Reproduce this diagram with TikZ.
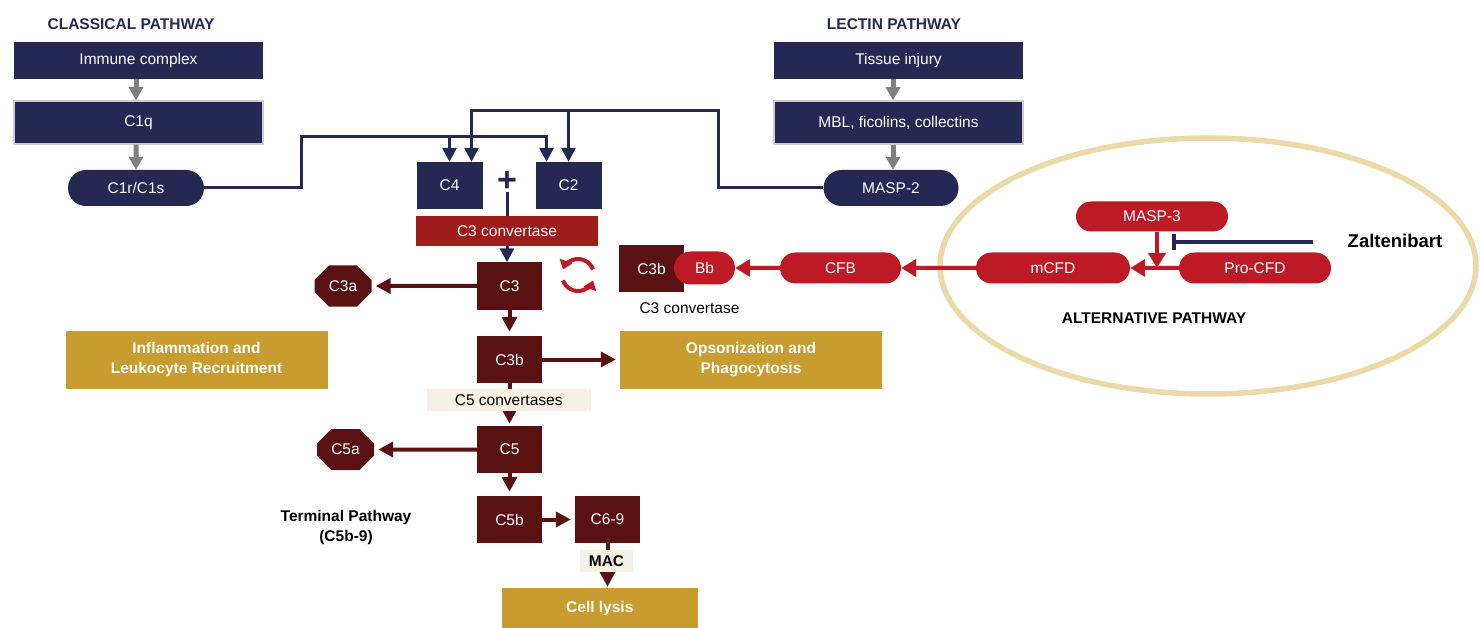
\documentclass[tikz,border=0pt]{standalone}
\usepackage{fontspec}
\setmainfont{Liberation Sans}
\usepackage{xcolor}
\usetikzlibrary{arrows.meta}
\usetikzlibrary{shapes.misc}
\definecolor{navy}{RGB}{36,40,82}
\definecolor{maroon}{RGB}{90,17,17}
\definecolor{alertred}{RGB}{190,26,38}
\definecolor{convred}{RGB}{158,28,26}
\definecolor{gold}{RGB}{201,156,47}
\definecolor{beige}{RGB}{247,241,227}
\definecolor{ringtan}{RGB}{236,217,168}
\definecolor{arrowgray}{RGB}{128,128,128}
\newcommand{\boxfont}{\fontsize{15.5}{20}\selectfont}
\tikzset{>=Triangle}
\tikzset{navybox/.style = {rectangle,fill=navy,text=white,font=\boxfont,minimum width=249pt,minimum height=37pt,inner sep=0pt}}
\tikzset{navypill/.style = {rounded rectangle,fill=navy,text=white,font=\boxfont,minimum width=136pt,minimum height=36pt,inner sep=0pt}}
\tikzset{navysq/.style = {rectangle,fill=navy,text=white,font=\boxfont,minimum width=66pt,minimum height=47pt,inner sep=0pt}}
\tikzset{head/.style = {font=\boxfont\bfseries,text=navy}}
\tikzset{darkbox/.style = {rectangle,fill=maroon,text=white,font=\boxfont,minimum width=65pt,minimum height=47pt,inner sep=0pt}}
\tikzset{darkoct/.style = {chamfered rectangle,chamfered rectangle xsep=9pt,chamfered rectangle ysep=9pt,fill=maroon,text=white,font=\boxfont,minimum width=57pt,minimum height=41pt,inner sep=0pt}}
\tikzset{redpill/.style = {rounded rectangle,fill=alertred,text=white,font=\boxfont,minimum height=31pt,inner sep=0pt}}
\tikzset{goldbox/.style = {rectangle,fill=gold,text=white,font=\boxfont\bfseries,align=center,minimum width=262pt,minimum height=58pt,inner sep=0pt}}
\tikzset{tag/.style = {rectangle,fill=beige,text=black,font=\boxfont,minimum height=22pt,inner sep=0pt}}
\tikzset{grayarrow/.style = {->,>={Triangle[width=14pt,length=13pt]},draw=arrowgray,line width=5pt}}
\tikzset{navyline/.style = {draw=navy,line width=3pt}}
\tikzset{navyarrow/.style = {navyline,->,>={Triangle[width=14pt,length=14pt]}}}
\tikzset{darkarrow/.style = {->,>={Triangle[width=15pt,length=15pt]},draw=maroon,line width=4pt,shorten >=4pt}}
\tikzset{redarrow/.style = {->,>={Triangle[width=17pt,length=15pt]},draw=alertred,line width=4pt}}
\tikzset{cyclearc/.style = {-{Triangle[width=13pt,length=9pt]},draw=alertred,line width=4pt}}
\tikzset{inhibit/.style = {-{Bar[width=16pt,line width=4pt]},draw=navy,line width=4pt}}

\begin{document}
\begin{tikzpicture}[x=1pt,y=-1pt]
    \useasboundingbox (0,0) rectangle (1480,628);

    \draw[ringtan,line width=5.5pt] (1208,266) ellipse [x radius=268,y radius=128];

    \node[head] (classical) at (131,24) {CLASSICAL PATHWAY};
    \node[navybox] (immune) at (138.5,60.5) {Immune complex};
    \node[navybox,draw=black!20,line width=1.5pt,minimum height=43pt] (c1q) at (138.5,122.5) {C1q};
    \node[navypill] (c1r) at (136,188) {C1r/C1s};

    \node[head] (lectin) at (894,24) {LECTIN PATHWAY};
    \node[navybox] (tissue) at (898.5,60.5) {Tissue injury};
    \node[navybox,draw=black!20,line width=1.5pt,minimum height=43pt] (mbl) at (898.5,122.5) {MBL, ficolins, collectins};
    \node[navypill,minimum width=135pt] (masp2) at (891,188) {MASP-2};

    \draw[grayarrow] (immune.south -| c1r) -- (c1q.north -| c1r);
    \draw[grayarrow] (c1q.south -| c1r) -- (c1r);
    \draw[grayarrow] ([xshift=2pt]tissue.south -| masp2) -- ([xshift=2pt]mbl.north -| masp2);
    \draw[grayarrow] ([xshift=2pt]mbl.south -| masp2) -- ([xshift=2pt]masp2.north);

    \node[navysq] (c4) at (449.5,185.5) {C4};
    \node[navysq] (c2) at (568.5,185.5) {C2};
    \node[text=navy,font=\fontsize{34}{34}\selectfont\bfseries,inner sep=0pt] (plus) at (507,182) {+};

    \coordinate (clbend) at (301,137);
    \coordinate (lebend) at (718,111);
    \draw[navyarrow] (c1r.east) -| (clbend) -| ([xshift=-22pt]c2.north);
    \draw[navyarrow] (c4.north |- clbend) -- (c4.north);
    \draw[navyarrow] (masp2.west) -| (lebend) -| (c2.north);
    \draw[navyarrow] (c2.north |- lebend) -| ([xshift=22pt]c4.north);

    \node[darkbox] (c3) at (509.5,286) {C3};
    \draw[navyarrow] (plus.south) -- (plus.south |- c3.north);
    \node[rectangle,fill=convred,text=white,font=\boxfont,minimum width=182pt,minimum height=30pt,inner sep=0pt] (c3conv) at (507,231) {C3 convertase};

    \node[darkoct] (c3a) at (343,286) {C3a};
    \node[darkbox] (c3b) at (509.5,359.5) {C3b};
    \node[darkbox] (c5) at (509.5,449.5) {C5};
    \node[darkoct] (c5a) at (345.5,449.5) {C5a};
    \node[darkbox] (c5b) at (509.5,519.5) {C5b};
    \node[darkbox] (c69) at (607.5,519.5) {C6-9};
    \node[goldbox] (inflam) at (196.5,359.5) {Inflammation and\\Leukocyte Recruitment};
    \node[goldbox] (opson) at (751,359.5) {Opsonization and\\Phagocytosis};
    \node[goldbox,minimum width=196pt,minimum height=40pt] (lysis) at (599.8,608) {Cell lysis};
    \node[font=\boxfont\bfseries,align=center,text=black] (terminal) at (346,527) {Terminal Pathway\\(C5b-9)};

    \draw[darkarrow] (c3) -- (c3a);
    \draw[darkarrow] (c3) -- (c3b);
    \draw[darkarrow] (c3b) -- (opson);
    \draw[darkarrow,shorten >=2pt] (c3b) -- (c5);
    \draw[darkarrow] (c5) -- (c5a);
    \draw[darkarrow] (c5) -- (c5b);
    \draw[darkarrow] (c5b) -- (c69);
    \draw[darkarrow,shorten >=1pt] (c69.south) -- (c69.south |- lysis.north);
    \node[tag,minimum width=164pt] (c5conv) at (508.7,400) {C5 convertases};
    \node[tag,minimum width=53pt,font=\boxfont\bfseries] (mac) at (606.5,561) {MAC};

    \coordinate (cycle) at (578,275);
    \draw[cyclearc] (cycle) ++(-20:16) arc (-20:-160:16);
    \draw[cyclearc] (cycle) ++(160:16) arc (160:20:16);

    \node[darkbox] (c3balt) at (651.5,269) {C3b};
    \node[redpill,minimum width=61pt,minimum height=33pt] (bb) at (704.5,268) {Bb};
    \node[font=\boxfont,text=black] (c3convalt) at (689.5,308) {C3 convertase};
    \node[redpill,minimum width=121pt] (cfb) at (840.5,268) {CFB};
    \node[redpill,minimum width=154pt] (mcfd) at (1053,268) {mCFD};
    \node[redpill,minimum width=152pt] (procfd) at (1255,268) {Pro-CFD};
    \node[redpill,minimum width=152pt,minimum height=30pt] (masp3) at (1152,216.5) {MASP-3};
    \node[font=\fontsize{18.5}{22}\selectfont\bfseries,text=black] (zalt) at (1395,241) {Zaltenibart};
    \node[font=\boxfont\bfseries,text=black] (alternative) at (1154,318) {ALTERNATIVE PATHWAY};

    \coordinate (junction) at (1157,268);
    \coordinate (zend) at (1172,242);
    \draw[redarrow] (cfb) -- (bb);
    \draw[redarrow] (mcfd) -- (cfb);
    \draw[redarrow] (procfd) -- (mcfd);
    \draw[redarrow] (masp3.south -| junction) -- (junction);
    \draw[inhibit,shorten <=31pt] (zalt.west |- zend) -- (zend);
\end{tikzpicture}
\end{document}
